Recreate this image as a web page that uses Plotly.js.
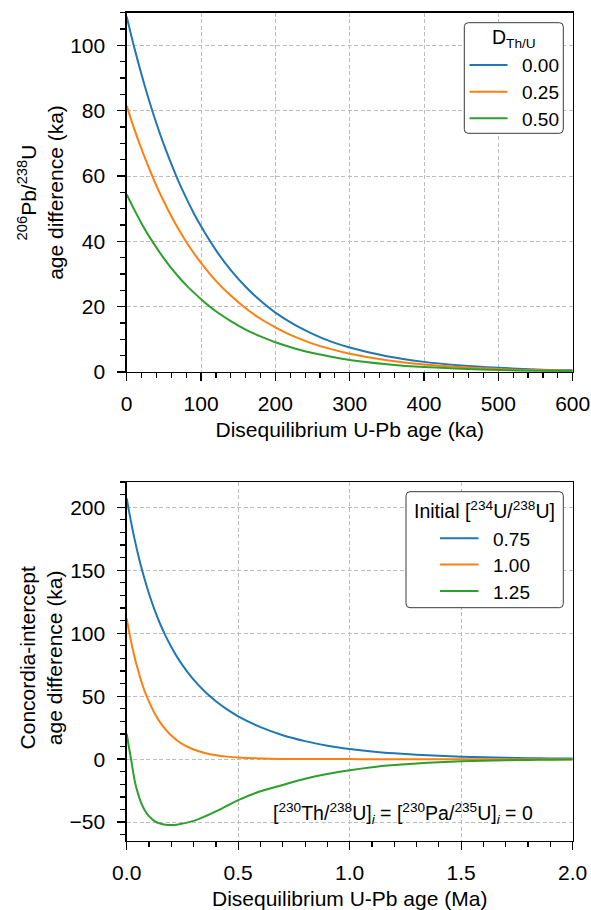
<!DOCTYPE html>
<html>
<head>
<meta charset="utf-8">
<script src="https://cdn.plot.ly/plotly-3.0.1.min.js"></script>
<style>
  html, body { margin: 0; padding: 0; background: #ffffff; }
  #chart { width: 591px; height: 910px; }
</style>
</head>
<body>
<div id="chart"></div>
<script>
// ---------- Top panel: 206Pb/238U age difference vs disequilibrium age (ka) ----------
const topAge = [0, 10, 20, 30, 40, 50, 60, 70, 80, 90, 100, 120, 140, 160, 180, 200, 225, 250, 275, 300, 350, 400, 450, 500, 550, 600];
const topD000 = [108.8, 99.5, 91.0, 83.2, 76.1, 69.6, 63.7, 58.2, 53.3, 48.7, 44.6, 37.3, 31.2, 26.1, 21.8, 18.2, 14.6, 11.7, 9.3, 7.5, 4.8, 3.1, 2.0, 1.3, 0.8, 0.5];
const topD025 = [81.5, 74.5, 68.2, 62.4, 57.0, 52.2, 47.7, 43.6, 39.9, 36.5, 33.4, 27.9, 23.4, 19.5, 16.3, 13.7, 10.9, 8.7, 7.0, 5.6, 3.6, 2.3, 1.5, 0.9, 0.6, 0.4];
const topD050 = [54.4, 49.8, 45.5, 41.6, 38.1, 34.8, 31.8, 29.1, 26.6, 24.4, 22.3, 18.6, 15.6, 13.0, 10.9, 9.1, 7.3, 5.8, 4.7, 3.7, 2.4, 1.5, 1.0, 0.6, 0.4, 0.3];
const topLabels = ['0.00', '0.25', '0.50'];
const topLegendTitle = 'D<sub>Th/U</sub>';

// ---------- Bottom panel: Concordia-intercept age difference vs disequilibrium age (Ma) ----------
const botAge = [0, 0.01, 0.02, 0.03, 0.04, 0.05, 0.06, 0.07, 0.08, 0.1, 0.125, 0.15, 0.175, 0.2, 0.225, 0.25, 0.3, 0.35, 0.4, 0.45, 0.5, 0.6, 0.7, 0.8, 0.9, 1.0, 1.1, 1.2, 1.3, 1.4, 1.5, 1.6, 1.7, 1.8, 1.9, 2.0];
const botU075 = [207, 197.1, 187.8, 179.1, 170.9, 163.2, 156.1, 149.3, 143.0, 131.3, 118.5, 107.3, 97.7, 89.0, 81.4, 74.7, 63.1, 53.7, 46.0, 39.5, 34.0, 25.4, 19.0, 14.3, 10.7, 8.1, 6.1, 4.6, 3.5, 2.6, 2.0, 1.5, 1.1, 0.8, 0.6, 0.5];
const botU100 = [111.5, 101.8, 93.0, 85.0, 77.6, 71.4, 65.0, 59.4, 54.2, 45.7, 36.5, 29.2, 23.4, 18.7, 15.0, 12.0, 7.7, 4.9, 3.1, 2.0, 1.3, 0.5, 0.2, 0.1, 0.05, 0.02, 0, 0, 0, 0, 0, 0, 0, 0, 0, 0];
const botU125 = [20, 9.5, -0.5, -11.5, -20.5, -27, -32.5, -36.8, -40.3, -45.3, -49.2, -51.2, -52.1, -52.3, -52, -51.2, -49, -45.5, -41.5, -37, -32.5, -25.5, -20.5, -15.5, -11.8, -8.8, -6.4, -4.7, -3.4, -2.4, -1.7, -1.2, -0.9, -0.6, -0.4, -0.3];
const botLabels = ['0.75', '1.00', '1.25'];
const botLegendTitle = 'Initial [<sup>234</sup>U/<sup>238</sup>U]';

const colors = ['#1f77b4', '#ff7f0e', '#2ca02c'];
const FONT = 'Liberation Sans, Arial, Helvetica, sans-serif';
const W = 591, H = 910;

function line(x, y, name, color, xa, ya) {
  return { x: x, y: y, name: name, type: 'scatter', mode: 'lines',
           line: { color: color, width: 2, shape: 'spline', smoothing: 0.8 },
           xaxis: xa, yaxis: ya, showlegend: false, hoverinfo: 'skip' };
}

const traces = [
  line(topAge, topD000, topLabels[0], colors[0], 'x', 'y'),
  line(topAge, topD025, topLabels[1], colors[1], 'x', 'y'),
  line(topAge, topD050, topLabels[2], colors[2], 'x', 'y'),
  line(botAge, botU075, botLabels[0], colors[0], 'x2', 'y2'),
  line(botAge, botU100, botLabels[1], colors[1], 'x2', 'y2'),
  line(botAge, botU125, botLabels[2], colors[2], 'x2', 'y2')
];

function minor(dt) {
  return { ticks: 'outside', dtick: dt, ticklen: 5, tickwidth: 1.2, tickcolor: '#000', showgrid: false };
}
function axis(extra) {
  return Object.assign({
    showline: true, linecolor: '#000', linewidth: 1.3, mirror: true,
    ticks: 'outside', ticklen: 8, tickwidth: 1.3, tickcolor: '#000',
    tickfont: { family: FONT, size: 21, color: '#000' },
    showgrid: true, gridcolor: '#bdbdbd', gridwidth: 1, griddash: '4px,2.5px',
    zeroline: false, automargin: false
  }, extra);
}

// ---- legend boxes (matplotlib-style, rounded frame) built in paper coordinates ----
const px = v => v / W;
const py = v => 1 - v / H;
function roundRect(x0, y0, x1, y1, r) {
  const P = (x, y) => px(x) + ',' + py(y);
  return 'M' + P(x0 + r, y0) + ' L' + P(x1 - r, y0) + ' Q' + P(x1, y0) + ' ' + P(x1, y0 + r) +
         ' L' + P(x1, y1 - r) + ' Q' + P(x1, y1) + ' ' + P(x1 - r, y1) +
         ' L' + P(x0 + r, y1) + ' Q' + P(x0, y1) + ' ' + P(x0, y1 - r) +
         ' L' + P(x0, y0 + r) + ' Q' + P(x0, y0) + ' ' + P(x0 + r, y0) + ' Z';
}
const shapes = [];
const annotations = [];
function addLegend(box, title, titleY, labels, lineX0, lineX1, textX, rowsY) {
  shapes.push({ type: 'path', xref: 'paper', yref: 'paper', layer: 'above',
                path: roundRect(box[0], box[1], box[2], box[3], 4),
                fillcolor: '#ffffff', line: { color: '#3a3a3a', width: 1 } });
  annotations.push({ xref: 'paper', yref: 'paper', x: px((box[0] + box[2]) / 2), y: py(titleY),
                     xanchor: 'center', yanchor: 'middle', showarrow: false, text: title,
                     font: { family: FONT, size: 19.5, color: '#000' } });
  labels.forEach((lab, i) => {
    shapes.push({ type: 'line', xref: 'paper', yref: 'paper', layer: 'above',
                  x0: px(lineX0), x1: px(lineX1), y0: py(rowsY[i]), y1: py(rowsY[i]),
                  line: { color: colors[i], width: 2 } });
    annotations.push({ xref: 'paper', yref: 'paper', x: px(textX), y: py(rowsY[i] + 1),
                       xanchor: 'left', yanchor: 'middle', showarrow: false, text: lab,
                       font: { family: FONT, size: 19, color: '#000' } });
  });
}
addLegend([464.3, 22.7, 563.3, 133.3], topLegendTitle, 38.5, topLabels, 469.5, 507.5, 520, [65, 91.7, 118.3]);
addLegend([406, 491.7, 563.3, 607.7], botLegendTitle, 510, botLabels, 440, 478.5, 490.5, [538.3, 564.5, 591]);

annotations.push(
  {
    xref: 'paper', yref: 'y domain', x: 40.5 / W, y: 0.5, xanchor: 'center', yanchor: 'middle',
    textangle: -90, showarrow: false, align: 'center',
    text: '<sup>206</sup>Pb/<sup>238</sup>U<br>age difference (ka)',
    font: { family: FONT, size: 21, color: '#000' }
  },
  {
    xref: 'paper', yref: 'y2 domain', x: 40.5 / W, y: 0.51, xanchor: 'center', yanchor: 'middle',
    textangle: -90, showarrow: false, align: 'center',
    text: 'Concordia-intercept<br>age difference (ka)',
    font: { family: FONT, size: 21, color: '#000' }
  },
  {
    xref: 'x2 domain', yref: 'y2 domain', x: 0.916, y: 0.078,
    xanchor: 'right', yanchor: 'middle', showarrow: false,
    text: '[<sup>230</sup>Th/<sup>238</sup>U]<sub><i>i</i></sub> = [<sup>230</sup>Pa/<sup>235</sup>U]<sub><i>i</i></sub> = 0',
    font: { family: FONT, size: 19.5, color: '#000' }
  }
);

const layout = {
  width: W, height: H,
  margin: { l: 0, r: 0, t: 0, b: 0 },
  paper_bgcolor: '#fff', plot_bgcolor: '#fff',
  font: { family: FONT, size: 21, color: '#000' },
  showlegend: false,
  xaxis: axis({
    domain: [0.2144, 0.969], anchor: 'y', range: [0, 600], dtick: 100, tick0: 0,
    minor: minor(20), ticklabelstandoff: 4,
    title: { text: 'Disequilibrium U-Pb age (ka)', font: { family: FONT, size: 21 }, standoff: 8 }
  }),
  yaxis: axis({
    domain: [0.5912, 0.986], anchor: 'x', range: [0, 110], dtick: 20, tick0: 0,
    minor: minor(5), ticklabelstandoff: 8
  }),
  xaxis2: axis({
    domain: [0.2144, 0.969], anchor: 'y2', range: [0, 2], dtick: 0.5, tick0: 0, tickformat: '.1f',
    minor: minor(0.1), ticklabelstandoff: 4,
    title: { text: 'Disequilibrium U-Pb age (Ma)', font: { family: FONT, size: 21 }, standoff: 8 }
  }),
  yaxis2: axis({
    domain: [0.0758, 0.4703], anchor: 'x2', range: [-65, 220], dtick: 50, tick0: 0,
    minor: minor(10), ticklabelstandoff: 8
  }),
  shapes: shapes,
  annotations: annotations
};

Plotly.newPlot('chart', traces, layout, { displayModeBar: false, staticPlot: true });
</script>
</body>
</html>
